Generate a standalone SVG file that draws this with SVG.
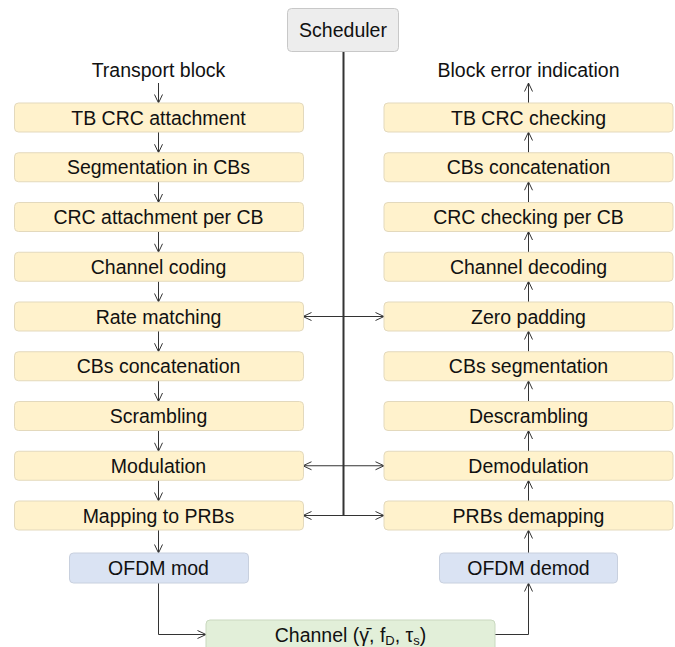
<svg xmlns="http://www.w3.org/2000/svg" width="675" height="647" viewBox="0 0 675 647">
<defs>
<marker id="ah" viewBox="0 0 10 10" refX="9.5" refY="5" markerWidth="10" markerHeight="10" markerUnits="userSpaceOnUse" orient="auto-start-reverse">
<path d="M1,1 L9.5,5 L1,9" fill="none" stroke="#333" stroke-width="1"/>
</marker>
</defs>
<style>
text{font-family:"Liberation Sans",Arial,sans-serif;font-size:19.5px;fill:#111;text-anchor:middle}
.y{fill:#fff2cc;stroke:#e3d9bd;stroke-width:1}
.b{fill:#dae3f3;stroke:#c8d0de;stroke-width:1}
.g{fill:#e2efd9;stroke:#c9d8bf;stroke-width:1}
.s{fill:#ededed;stroke:#c8c8c8;stroke-width:1}
.c{fill:none;stroke:#333;stroke-width:1}
.a{fill:none;stroke:#333;stroke-width:1;marker-end:url(#ah)}
.d{fill:none;stroke:#333;stroke-width:1;marker-start:url(#ah);marker-end:url(#ah)}
</style>
<rect width="675" height="647" fill="#fff"/>
<g id="connectors">
<path class="c" d="M343.5,51 V516" style="stroke-width:2"/>
<path class="a" d="M158.5,83 V103"/>
<path class="a" d="M158.5,132 V152.75"/>
<path class="a" d="M158.5,181.75 V202.5"/>
<path class="a" d="M158.5,231.5 V252.25"/>
<path class="a" d="M158.5,281.25 V302"/>
<path class="a" d="M158.5,331 V351.75"/>
<path class="a" d="M158.5,380.75 V401.5"/>
<path class="a" d="M158.5,430.5 V451.25"/>
<path class="a" d="M158.5,480.25 V501"/>
<path class="a" d="M158.5,530 V553"/>
<path class="a" d="M158.5,583 V634.5 H206"/>
<path class="a" d="M495,634.5 H528.5 V583"/>
<path class="a" d="M528.5,553 V530"/>
<path class="a" d="M528.5,501 V480.25"/>
<path class="a" d="M528.5,451.25 V430.5"/>
<path class="a" d="M528.5,401.5 V380.75"/>
<path class="a" d="M528.5,351.75 V331"/>
<path class="a" d="M528.5,302 V281.25"/>
<path class="a" d="M528.5,252.25 V231.5"/>
<path class="a" d="M528.5,202.5 V181.75"/>
<path class="a" d="M528.5,152.75 V132"/>
<path class="a" d="M528.5,103 V83"/>
<path class="d" d="M303,316.5 H384"/>
<path class="d" d="M303,465.75 H384"/>
<path class="d" d="M303,515.5 H384"/>
</g>
<g id="scheduler"><rect class="s" x="287.5" y="8.5" width="111" height="43" rx="4"/><text x="343" y="37">Scheduler</text></g>
<g id="transport-block"><text x="158.5" y="77">Transport block</text></g>
<g id="block-error"><text x="528.5" y="77">Block error indication</text></g>
<g id="tb-crc-attach"><rect class="y" x="14.5" y="103" width="289" height="29" rx="4"/><text x="158.5" y="124.5">TB CRC attachment</text></g>
<g id="segmentation"><rect class="y" x="14.5" y="152.75" width="289" height="29" rx="4"/><text x="158.5" y="174.25">Segmentation in CBs</text></g>
<g id="crc-attach-cb"><rect class="y" x="14.5" y="202.5" width="289" height="29" rx="4"/><text x="158.5" y="224">CRC attachment per CB</text></g>
<g id="channel-coding"><rect class="y" x="14.5" y="252.25" width="289" height="29" rx="4"/><text x="158.5" y="273.75">Channel coding</text></g>
<g id="rate-matching"><rect class="y" x="14.5" y="302" width="289" height="29" rx="4"/><text x="158.5" y="323.5">Rate matching</text></g>
<g id="cbs-concat-tx"><rect class="y" x="14.5" y="351.75" width="289" height="29" rx="4"/><text x="158.5" y="373.25">CBs concatenation</text></g>
<g id="scrambling"><rect class="y" x="14.5" y="401.5" width="289" height="29" rx="4"/><text x="158.5" y="423">Scrambling</text></g>
<g id="modulation"><rect class="y" x="14.5" y="451.25" width="289" height="29" rx="4"/><text x="158.5" y="472.75">Modulation</text></g>
<g id="mapping-prbs"><rect class="y" x="14.5" y="501" width="289" height="29" rx="4"/><text x="158.5" y="522.5">Mapping to PRBs</text></g>
<g id="ofdm-mod"><rect class="b" x="69.5" y="553" width="179" height="30" rx="4"/><text x="158.5" y="575">OFDM mod</text></g>
<g id="tb-crc-check"><rect class="y" x="384" y="103" width="289" height="29" rx="4"/><text x="528.5" y="124.5">TB CRC checking</text></g>
<g id="cbs-concat-rx"><rect class="y" x="384" y="152.75" width="289" height="29" rx="4"/><text x="528.5" y="174.25">CBs concatenation</text></g>
<g id="crc-check-cb"><rect class="y" x="384" y="202.5" width="289" height="29" rx="4"/><text x="528.5" y="224">CRC checking per CB</text></g>
<g id="channel-decoding"><rect class="y" x="384" y="252.25" width="289" height="29" rx="4"/><text x="528.5" y="273.75">Channel decoding</text></g>
<g id="zero-padding"><rect class="y" x="384" y="302" width="289" height="29" rx="4"/><text x="528.5" y="323.5">Zero padding</text></g>
<g id="cbs-segmentation"><rect class="y" x="384" y="351.75" width="289" height="29" rx="4"/><text x="528.5" y="373.25">CBs segmentation</text></g>
<g id="descrambling"><rect class="y" x="384" y="401.5" width="289" height="29" rx="4"/><text x="528.5" y="423">Descrambling</text></g>
<g id="demodulation"><rect class="y" x="384" y="451.25" width="289" height="29" rx="4"/><text x="528.5" y="472.75">Demodulation</text></g>
<g id="prbs-demapping"><rect class="y" x="384" y="501" width="289" height="29" rx="4"/><text x="528.5" y="522.5">PRBs demapping</text></g>
<g id="ofdm-demod"><rect class="b" x="439.5" y="553" width="178" height="30" rx="4"/><text x="528.5" y="575">OFDM demod</text></g>
<g id="channel"><rect class="g" x="206" y="620" width="289" height="40" rx="4"/><text x="350.5" y="642">Channel (γ̄, f<tspan font-size="13" dy="3">D</tspan><tspan dy="-3">, τ</tspan><tspan font-size="13" dy="3">s</tspan><tspan dy="-3">)</tspan></text></g>
</svg>
